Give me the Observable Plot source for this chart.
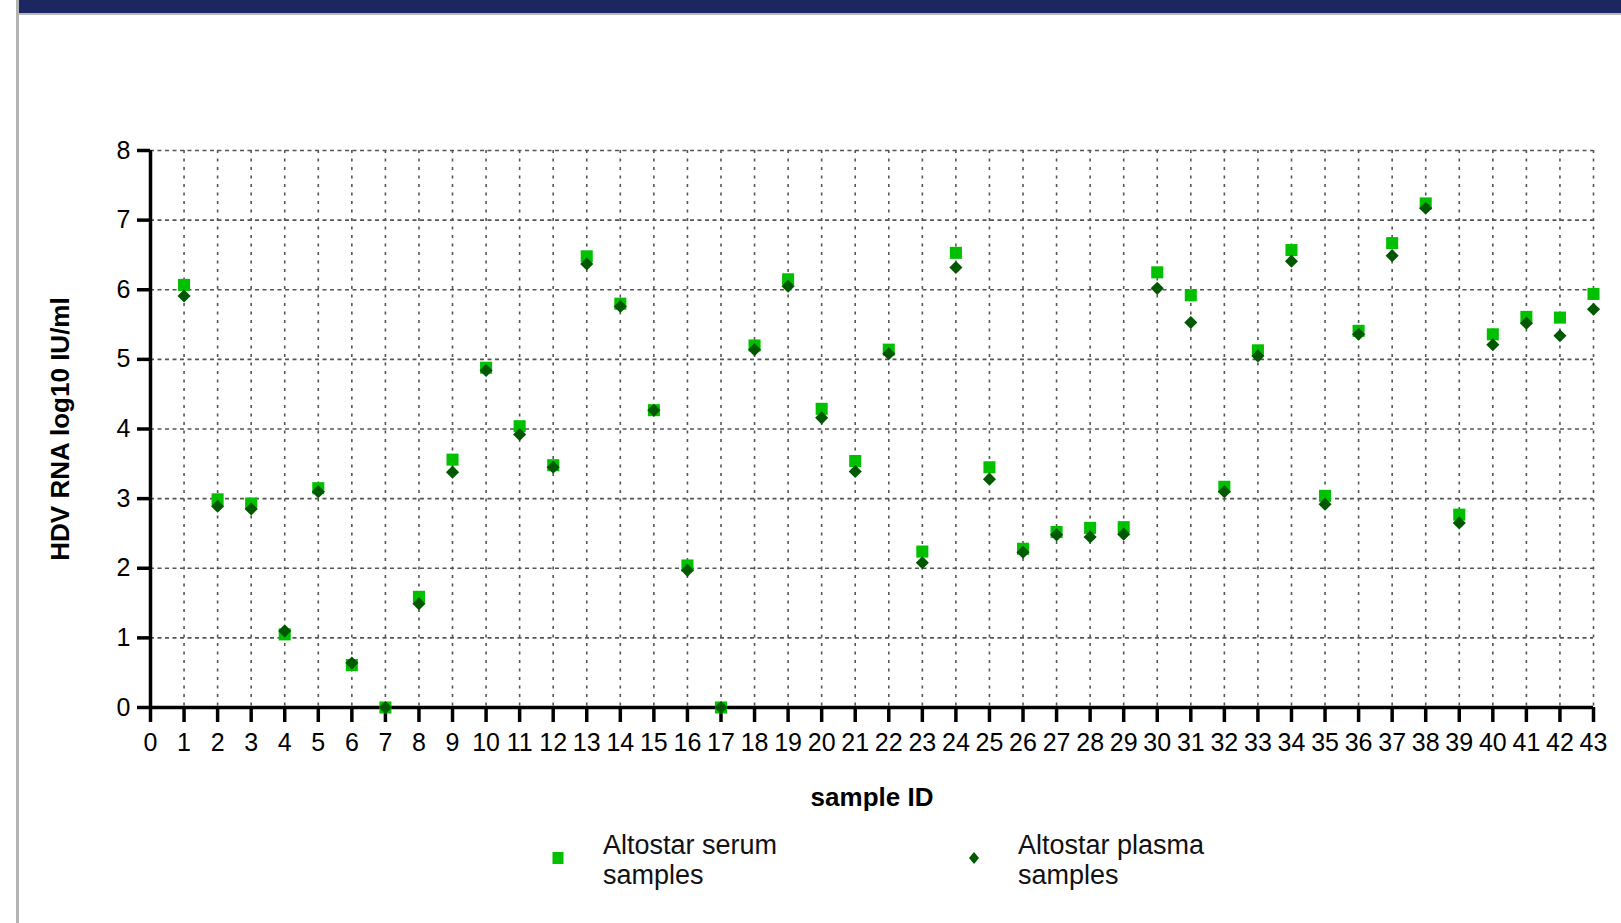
<!DOCTYPE html>
<html>
<head>
<meta charset="utf-8">
<script src="https://cdn.jsdelivr.net/npm/d3@7"></script>
<script src="https://cdn.jsdelivr.net/npm/@observablehq/plot@0.6"></script>
<style>
  html, body { margin: 0; padding: 0; background: #fff; }
  body { width: 1621px; height: 923px; position: relative; overflow: hidden;
         font-family: "Liberation Sans", Arial, sans-serif; }
  #chart { position: absolute; left: 0; top: 0; }
  #topbar { position: absolute; left: 19px; top: 0; width: 1602px; height: 13px;
            background: #1c2661; border-bottom: 2px solid #b8b8b8; z-index: 2; }
  #leftline { position: absolute; left: 16px; top: 0; width: 3px; height: 923px;
              background: #b3b3b3; z-index: 2; }
  .legtext { position: absolute; top: 830px; font-size: 27px; line-height: 30px; color: #111; }
  .legsym { position: absolute; }
</style>
</head>
<body>
<div id="leftline"></div>
<div id="topbar"></div>
<div id="chart"></div>
<svg class="legsym" style="left:552px;top:852px" width="12" height="13"><rect x="0.5" y="0" width="11" height="12" fill="#00c000"/></svg>
<div class="legtext" style="left:603px">Altostar serum<br>samples</div>
<svg class="legsym" style="left:968px;top:851px" width="12" height="14"><path d="M6,1 L11,7 L6,13 L1,7 Z" fill="#005800"/></svg>
<div class="legtext" style="left:1018px">Altostar plasma<br>samples</div>
<script>
// ---- data ----
const sampleIds = d3.range(1, 44);
const serumValues = [6.07,2.99,2.93,1.05,3.15,0.61,0,1.59,3.56,4.88,4.04,3.48,6.48,5.80,4.27,2.04,0,5.20,6.15,4.29,3.54,5.14,2.24,6.53,3.45,2.28,2.52,2.58,2.59,6.25,5.92,3.17,5.13,6.57,3.04,5.41,6.67,7.24,2.77,5.36,5.61,5.60,5.94];
const plasmaValues = [5.91,2.89,2.85,1.10,3.10,0.64,0,1.49,3.38,4.84,3.92,3.45,6.37,5.76,4.27,1.97,0,5.14,6.05,4.16,3.39,5.08,2.08,6.32,3.28,2.23,2.48,2.45,2.49,6.02,5.53,3.10,5.05,6.41,2.92,5.36,6.49,7.17,2.65,5.21,5.52,5.34,5.72];
const xTicks = d3.range(0, 44);
const yTicks = d3.range(0, 9);
const xLabel = "sample ID";
const yLabel = "HDV RNA log10 IU/ml";

const rows = sampleIds.map((id, i) => ({id, serum: serumValues[i], plasma: plasmaValues[i]}));

const chart = Plot.plot({
  width: 1621,
  height: 820,
  marginLeft: 150,
  marginRight: 28,
  marginTop: 150,
  marginBottom: 113,
  x: {domain: [0, 43]},
  y: {domain: [0, 8]},
  style: {fontFamily: '"Liberation Sans", Arial, sans-serif', fontSize: "25px", color: "#000", background: "transparent"},
  marks: [
    Plot.gridY(yTicks.filter(d => d > 0), {stroke: "#555", strokeOpacity: 1, strokeWidth: 1.6, strokeDasharray: "4,3.5"}),
    Plot.gridX(xTicks.filter(d => d > 0), {stroke: "#555", strokeOpacity: 1, strokeWidth: 1.6, strokeDasharray: "3,5.5"}),
    Plot.axisY(yTicks, {tickSize: 13, tickPadding: 7, strokeWidth: 3.5, fontSize: 25, label: null, tickFormat: d3.format("d")}),
    Plot.axisX(xTicks, {tickSize: 15, tickPadding: 11, strokeWidth: 3.5, fontSize: 25, label: null, tickFormat: d3.format("d")}),
    Plot.ruleX([0], {strokeWidth: 3.5, stroke: "#000"}),
    Plot.ruleY([0], {strokeWidth: 3.5, stroke: "#000"}),
    Plot.text([xLabel], {frameAnchor: "bottom", lineAnchor: "top", dy: 80, fontWeight: "bold", fontSize: 26, fill: "#000"}),
    Plot.text([yLabel], {frameAnchor: "left", textAnchor: "middle", rotate: -90, dx: -90, lineAnchor: "middle", fontWeight: "bold", fontSize: 26, fill: "#000"}),
    Plot.dot(rows, {x: "id", y: "serum", symbol: "square", r: 6.8, fill: "#00c000"}),
    Plot.dot(rows, {x: "id", y: "plasma", symbol: "diamond2", r: 5.9, fill: "#005800"})
  ]
});
document.getElementById("chart").appendChild(chart);
</script>
</body>
</html>
